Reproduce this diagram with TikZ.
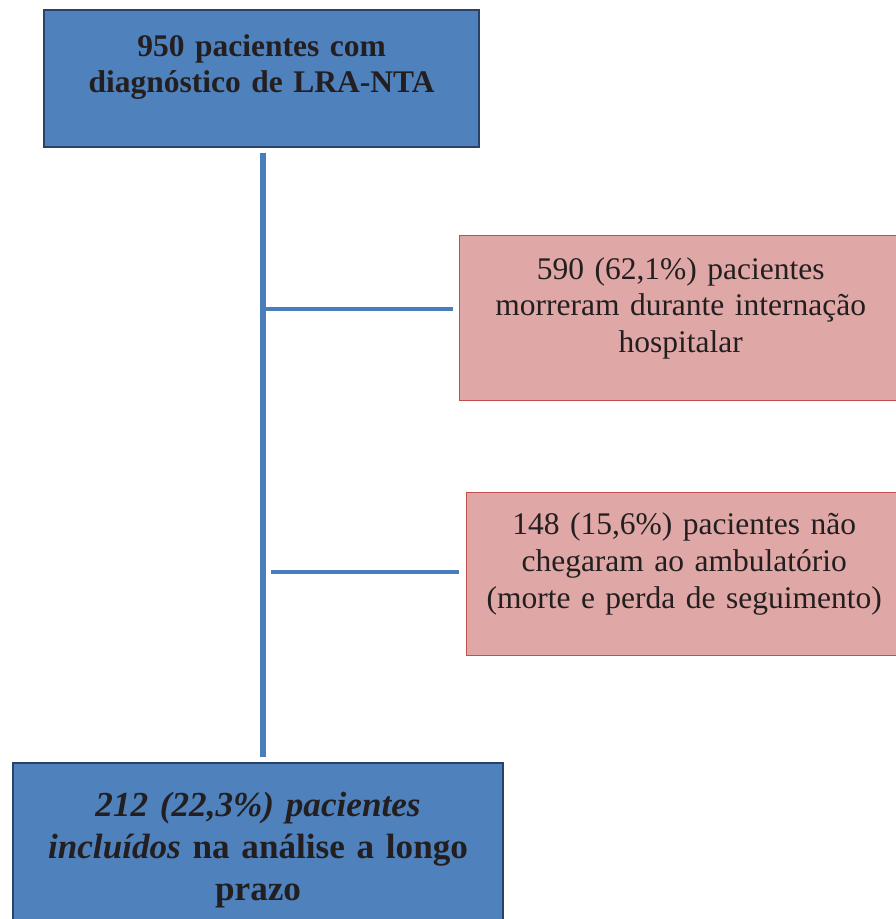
\documentclass[tikz,border=0pt]{standalone}
\usepackage{fontspec}
\setmainfont{Liberation Serif}
\usepackage{xcolor}
\definecolor{azulcaixa}{RGB}{79,129,189}
\definecolor{azulborda}{RGB}{40,66,104}
\definecolor{azullinha}{RGB}{74,126,187}
\definecolor{rosacaixa}{RGB}{223,167,166}
\definecolor{rosaborda}{RGB}{192,80,77}
\definecolor{texto}{RGB}{35,31,32}
\newlength{\unid}
\setlength{\unid}{0.025cm}
\tikzset{
  caixaazul/.style={draw=azulborda, line width=1.5pt, fill=azulcaixa, anchor=north west,
    inner sep=0pt, align=center, text=texto},
  caixarosa/.style={draw=rosaborda, line width=1pt, fill=rosacaixa, anchor=north west,
    inner sep=0pt, align=center, text=texto},
  tronco/.style={draw=azullinha, line width=3.8pt},
  ramo/.style={draw=azullinha, line width=2.8pt},
}
\begin{document}
\begin{tikzpicture}[x=0.025cm, y=-0.025cm]
    \useasboundingbox (0,0) rectangle (895,919);

    % caixas
    \node[caixaazul, text width=435\unid, text height=46\unid, text depth=91\unid,
      font=\fontsize{22.4}{25.6}\selectfont\bfseries] (inicio) at (43,9)
      {950 pacientes com\\diagnóstico de LRA-NTA};
    \node[caixarosa, text width=442\unid, text height=44\unid, text depth=121\unid,
      font=\fontsize{22.4}{25.8}\selectfont] (obito) at (459,235)
      {590 (62,1\%) pacientes\\morreram durante internação\\hospitalar};
    \node[caixarosa, text width=435\unid, text height=42\unid, text depth=121\unid,
      font=\fontsize{22.4}{26.4}\selectfont] (perda) at (466,492)
      {148 (15,6\%) pacientes não\\chegaram ao ambulatório\\(morte e perda de seguimento)};
    \node[caixaazul, text width=490\unid, text height=53\unid, text depth=127\unid,
      font=\fontsize{25}{29.9}\selectfont\bfseries] (final) at (12,762)
      {\textit{212 (22,3\%) pacientes}\\\textit{incluídos} na análise a longo\\prazo};

    % conectores
    \coordinate (ramo1) at (263,309);
    \coordinate (ramo2) at (263,572);
    \draw[tronco, shorten <=5\unid, shorten >=5\unid] (ramo1 |- inicio.south) -- (ramo1 |- final.north);
    \draw[ramo, shorten >=6\unid] (ramo1) -- (ramo1 -| obito.west);
    \draw[ramo, shorten <=8\unid, shorten >=7\unid] (ramo2) -- (ramo2 -| perda.west);
\end{tikzpicture}
\end{document}
